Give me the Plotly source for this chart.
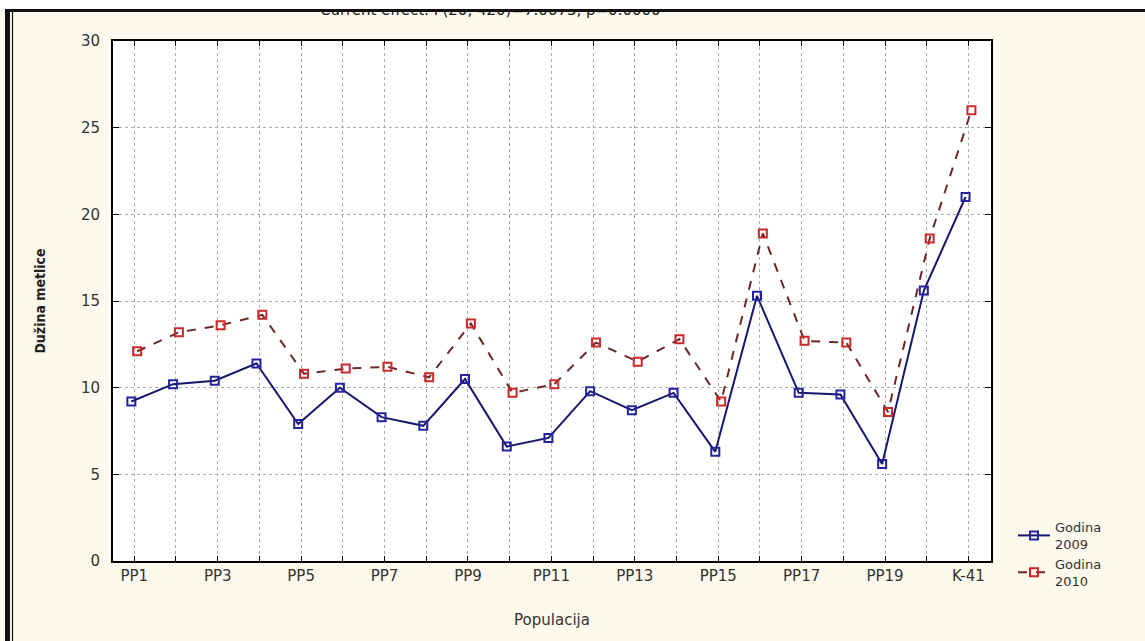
import plotly.graph_objects as go

# Populations on the x axis
populations = ["PP1", "PP2", "PP3", "PP4", "PP5", "PP6", "PP7", "PP8", "PP9", "PP10",
               "PP11", "PP12", "PP13", "PP14", "PP15", "PP16", "PP17", "PP18", "PP19",
               "PP20", "K-41"]

# Mean panicle length per population and year
godina_2009 = [9.2, 10.2, 10.4, 11.4, 7.9, 10.0, 8.3, 7.8, 10.5, 6.6,
               7.1, 9.8, 8.7, 9.7, 6.3, 15.3, 9.7, 9.6, 5.6, 15.6, 21.0]
godina_2010 = [12.1, 13.2, 13.6, 14.2, 10.8, 11.1, 11.2, 10.6, 13.7, 9.7,
               10.2, 12.6, 11.5, 12.8, 9.2, 18.9, 12.7, 12.6, 8.6, 18.6, 26.0]

y_ticks = [0, 5, 10, 15, 20, 25, 30]
title_text = "Current effect: F(20, 420)=7.0673, p=0.0000"

idx = list(range(len(populations)))
shift = 0.07  # small horizontal offset so the two series do not overlap

# plot-area geometry in pixels (used for paper-coordinate helpers)
W, H = 1145, 641
L, R, T, B = 113, 154, 41, 80
pw, ph = W - L - R, H - T - B


def px_x(px):
    return (px - L) / pw


def px_y(py):
    return (H - B - py) / ph


fig = go.Figure()

fig.add_trace(go.Scatter(
    x=[i - shift for i in idx], y=godina_2009,
    mode="lines+markers", name="Godina<br>2009",
    line=dict(color="#17176e", width=2),
    marker=dict(symbol="square-open", size=8, color="#2424a0",
                line=dict(width=2, color="#2424a0")),
))
fig.add_trace(go.Scatter(
    x=[i + shift for i in idx], y=godina_2010,
    mode="lines+markers", name="Godina<br>2010",
    line=dict(color="#6a2828", width=2, dash="dash"),
    marker=dict(symbol="square-open", size=8, color="#cc2a2a",
                line=dict(width=2, color="#cc2a2a")),
))

tick_font = dict(family="DejaVu Sans", size=15, color="#333333")

fig.update_xaxes(
    range=[-0.51, 20.54],
    tickmode="array", tickvals=idx,
    ticktext=[p if i % 2 == 0 else "" for i, p in enumerate(populations)],
    ticks="inside", ticklen=5, tickwidth=1, tickcolor="black",
    showline=True, linecolor="black", linewidth=2, mirror="ticks",
    showgrid=True, gridcolor="#aaaaaa", griddash="dot", gridwidth=1,
    zeroline=False, tickfont=tick_font,
    title=dict(text="Populacija", font=dict(family="DejaVu Sans", size=15, color="#333333"),
               standoff=30),
)
fig.update_yaxes(
    range=[0, 30], tickvals=y_ticks,
    ticks="inside", ticklen=6, tickwidth=1, tickcolor="black",
    showline=True, linecolor="black", linewidth=2, mirror="ticks",
    showgrid=True, gridcolor="#aaaaaa", griddash="dot", gridwidth=1,
    zeroline=False, tickfont=tick_font, ticklabelstandoff=8,
    title=dict(text="<b>Dužina metlice</b>",
               font=dict(family="DejaVu Sans Condensed", size=14, color="#222222"),
               standoff=32),
)

annotations = [
    # figure title, only its lower part shows below the top frame line
    dict(text=title_text, x=px_x(490), y=px_y(10),
         xref="paper", yref="paper", xanchor="center", yanchor="middle",
         showarrow=False, font=dict(family="DejaVu Sans", size=15, color="#222222")),
    # white strip above the frame
    dict(text=" ", x=px_x(W / 2), y=px_y(4.5), xref="paper", yref="paper",
         xanchor="center", yanchor="middle", showarrow=False,
         width=W, height=9, bgcolor="white", borderpad=0, borderwidth=0,
         font=dict(size=1)),
    # top frame line
    dict(text=" ", x=px_x(W / 2 + 5), y=px_y(10.5), xref="paper", yref="paper",
         xanchor="center", yanchor="middle", showarrow=False,
         width=W - 5, height=3, bgcolor="#111111", borderpad=0, borderwidth=0,
         font=dict(size=1)),
]

shapes = [
    # double frame line on the left edge
    dict(type="rect", xref="paper", yref="paper",
         x0=px_x(5), x1=px_x(10), y0=px_y(H), y1=px_y(9),
         fillcolor="#111111", line=dict(width=0)),
    dict(type="line", xref="paper", yref="paper",
         x0=px_x(12.5), x1=px_x(12.5), y0=px_y(H), y1=px_y(11),
         line=dict(color="#111111", width=1.2)),
]

fig.update_layout(
    width=W, height=H,
    margin=dict(l=L, r=R, t=T, b=B),
    paper_bgcolor="#fdf9ec", plot_bgcolor="white",
    showlegend=True,
    legend=dict(x=px_x(1013), y=px_y(512), xanchor="left", yanchor="top",
                bgcolor="rgba(0,0,0,0)", tracegroupgap=2,
                font=dict(family="DejaVu Sans", size=13, color="#333333"),
                itemwidth=32),
    annotations=annotations,
    shapes=shapes,
)

fig.write_html("out.html")
